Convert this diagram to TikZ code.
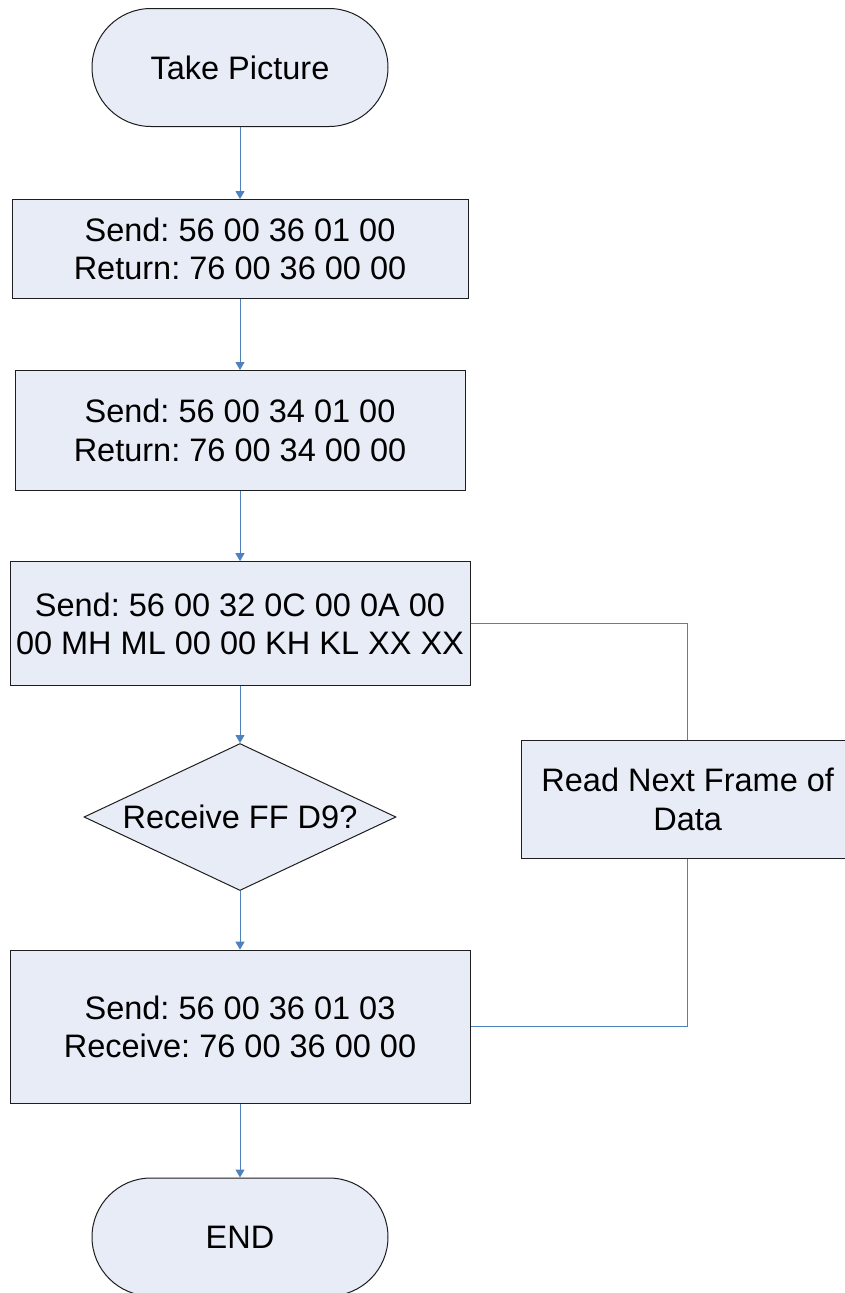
\documentclass[tikz,border=0pt]{standalone}
\usepackage{fontspec}
\setmainfont{Liberation Sans}
\usetikzlibrary{shapes.geometric,arrows.meta}
\definecolor{boxfill}{RGB}{231,236,247}
\definecolor{flowblue}{RGB}{79,129,189}
\definecolor{boxline}{RGB}{30,30,30}
\frenchspacing
\tikzset{
  block/.style={draw=boxline, fill=boxfill, line width=1pt, align=center,
    font=\fontsize{32.5}{38.3}\selectfont, inner sep=0pt},
  terminal/.style={block, rounded corners=59pt, minimum width=296pt, minimum height=118pt},
  decision/.style={block, diamond, aspect=2.12, minimum width=312pt, minimum height=147pt},
  flow/.style={draw=flowblue, line width=1pt, -{Triangle[width=9pt,length=8pt]}},
  loopline/.style={draw=flowblue, line width=1pt}
}
\begin{document}
\begin{tikzpicture}[x=1pt,y=-1pt]
\useasboundingbox (0,0) rectangle (844,1293);
\node (take) [terminal] at (240,67.5) {Take Picture};
\node (stopcmd) [block, minimum width=456pt, minimum height=99pt] at (240,249)
  {Send: 56 00 36 01 00\\Return: 76 00 36 00 00};
\node (lengthcmd) [block, minimum width=450pt, minimum height=120pt] at (240,430.5)
  {Send: 56 00 34 01 00\\Return: 76 00 34 00 00};
\node (readcmd) [block, minimum width=460pt, minimum height=124pt] at (240,623.7)
  {Send: 56 00 32 0C 00 0A 00\\00 MH ML 00 00 KH KL XX XX};
\node (check) [decision] at (240,817) {Receive FF D9?};
\node (resume) [block, minimum width=460pt, minimum height=153pt] at (240,1026.7)
  {Send: 56 00 36 01 03\\Receive: 76 00 36 00 00};
\node (finish) [terminal] at (240,1237) {END};
\node (next) [block, minimum width=332pt, minimum height=117.6pt] at (687.7,799.5)
  {Read Next Frame of\\Data};
% main flow
\draw [flow] (take) -- (stopcmd);
\draw [flow] (stopcmd) -- (lengthcmd);
\draw [flow] (lengthcmd) -- (readcmd);
\draw [flow] (readcmd) -- (check);
\draw [flow] (check) -- (resume);
\draw [flow] (resume) -- (finish);
% loop back
\draw [loopline] (readcmd.east) -| (next.north);
\draw [loopline] (next.south) |- (resume.east);
\end{tikzpicture}
\end{document}
